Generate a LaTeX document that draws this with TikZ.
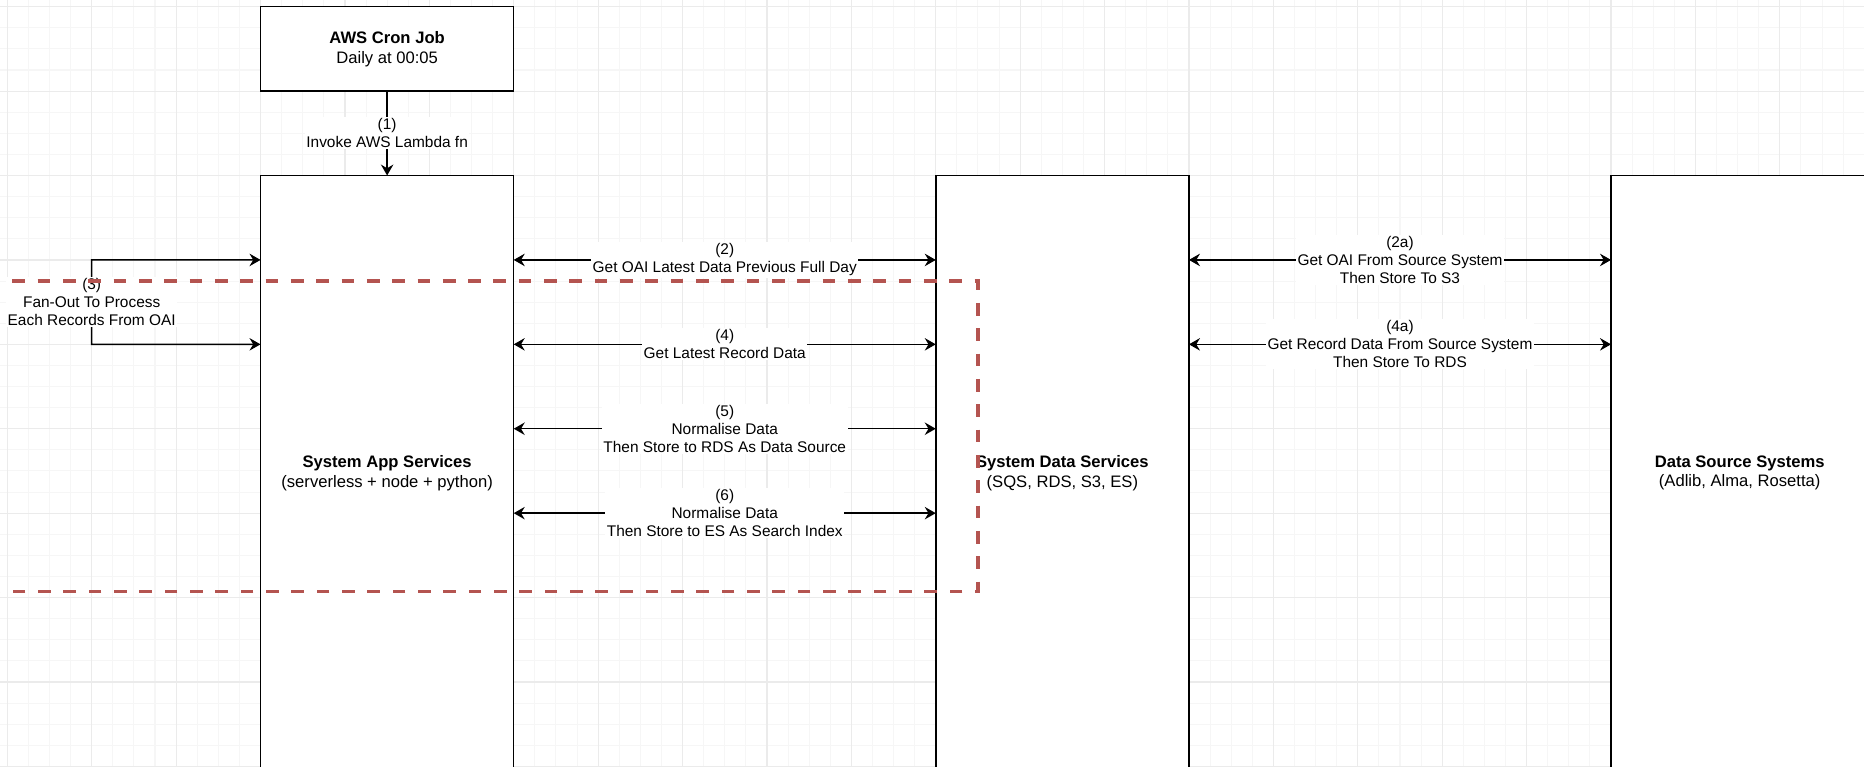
\documentclass[tikz,border=0pt]{standalone}
\usepackage{fontspec}
\setmainfont{Liberation Sans}
\usetikzlibrary{arrows.meta, positioning}
\definecolor{gridminor}{RGB}{246,246,246}
\definecolor{gridmajor}{RGB}{235,235,235}
\definecolor{groupred}{RGB}{180,84,80}

\begin{document}
\begin{tikzpicture}[
    x=0.5cm, y=0.5cm,
    box/.style={rectangle, draw, fill=white, line width=1pt, outer sep=0pt, minimum width=6cm, align=center, font=\fontsize{11.2}{13.3}\selectfont},
    cronbox/.style={box, minimum height=2cm},
    svcbox/.style={box, minimum height=14.1cm},
    lbl/.style={fill=white, inner sep=1pt, align=center, font=\fontsize{10.4}{12.1}\selectfont},
    >={Stealth[length=7.4pt, width=8.4pt, inset=2.5pt]},
    arrow/.style={->, line width=1pt},
    biarrow/.style={<->, line width=1pt},
    groupbox/.style={groupred, line width=2.2pt, dash pattern=on 0.3cm off 0.3cm},
    node distance=2cm
]
    \useasboundingbox (-0.346,0.318) rectangle (87.99,-36.03);

    % background grid
    \draw[gridminor, line width=0.7pt, step=0.5cm] (-1,1) grid (89,-37);
    \draw[gridmajor, line width=0.8pt, step=2cm] (-1,1) grid (89,-37);

    % Cron trigger
    \node[cronbox] (cron) at (18,-2) {\textbf{AWS Cron Job}\\Daily at 00:05};

    % Services
    \node[svcbox, below=2cm of cron] (app) {\textbf{System App Services}\\(serverless + node + python)};
    \node[svcbox, right=10cm of app] (datasvc) {\textbf{System Data Services}\\(SQS, RDS, S3, ES)};
    \node[svcbox, right=10cm of datasvc, minimum width=6.1cm] (datasrc) {\textbf{Data Source Systems}\\(Adlib, Alma, Rosetta)};

    % (1) invoke
    \draw[arrow] (cron.south) -- node[lbl] {(1)\\Invoke AWS Lambda fn} (app.north);

    % App <-> Data services
    \draw[biarrow] ([yshift=-2cm]app.north east) -- node[lbl] {(2)\\Get OAI Latest Data Previous Full Day} ([yshift=-2cm]datasvc.north west);
    \draw[biarrow] ([yshift=-4cm]app.north east) -- node[lbl] {(4)\\Get Latest Record Data} ([yshift=-4cm]datasvc.north west);
    \draw[biarrow] ([yshift=-6cm]app.north east) -- node[lbl] {(5)\\Normalise Data\\Then Store to RDS As Data Source} ([yshift=-6cm]datasvc.north west);
    \draw[biarrow] ([yshift=-8cm]app.north east) -- node[lbl] {(6)\\Normalise Data\\Then Store to ES As Search Index} ([yshift=-8cm]datasvc.north west);

    % Data services <-> Source systems
    \draw[biarrow] ([yshift=-2cm]datasvc.north east) -- node[lbl] {(2a)\\Get OAI From Source System\\Then Store To S3} ([yshift=-2cm]datasrc.north west);
    \draw[biarrow] ([yshift=-4cm]datasvc.north east) -- node[lbl] {(4a)\\Get Record Data From Source System\\Then Store To RDS} ([yshift=-4cm]datasrc.north west);

    % (3) fan-out loop
    \draw[biarrow] ([yshift=-2cm]app.north west) -- ++(-4cm,0) -- node[lbl] {(3)\\Fan-Out To Process\\Each Records From OAI} ++(0,-2cm) -- ([yshift=-4cm]app.north west);

    % per-record group
    \draw[groupbox] (-0.96,-13) -- (46,-13) -- (46,-27.7) -- (-0.96,-27.7);
\end{tikzpicture}
\end{document}
